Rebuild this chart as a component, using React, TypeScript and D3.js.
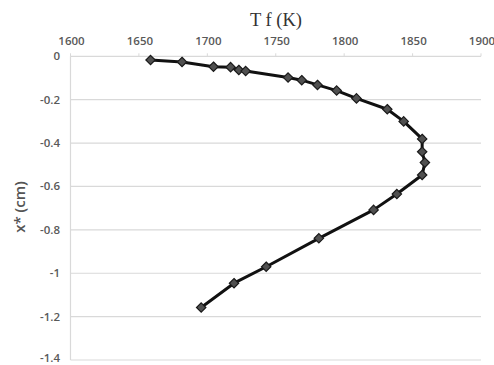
import React from 'react';
import * as d3 from 'd3';

// data
const tempK = [1658.5, 1681.5, 1704.5, 1717, 1723, 1728, 1759, 1769, 1780.5, 1794.5, 1809, 1831.5, 1843.5, 1857, 1857, 1859, 1857, 1838.5, 1821.5, 1781.5, 1743, 1719.5, 1695.5];
const depthCm = [-0.017, -0.026, -0.048, -0.05, -0.063, -0.068, -0.098, -0.11, -0.132, -0.158, -0.194, -0.244, -0.3, -0.381, -0.44, -0.49, -0.547, -0.635, -0.708, -0.839, -0.97, -1.046, -1.158];
const xTicks = [1600, 1650, 1700, 1750, 1800, 1850, 1900];
const yTicks = [0, -0.2, -0.4, -0.6, -0.8, -1, -1.2, -1.4];

const width = 494;
const height = 365;
const margins = { l: 70.5, r: 13, t: 56.3, b: 5 };

export default function App() {
    const xScale = d3.scaleLinear().domain([1600, 1900]).range([margins.l, width - margins.r]);
    const yScale = d3.scaleLinear().domain([0, -1.4]).range([margins.t, height - margins.b]);

    const pts = tempK.map((t, i) => [t, depthCm[i]] as [number, number]);
    const line = d3.line<[number, number]>()
        .x(d => xScale(d[0]))
        .y(d => yScale(d[1]));

    const diamond = d3.symbol().type(d3.symbolDiamond2).size(56)();
    const tickFont = "'Open Sans', 'Liberation Sans', Arial, sans-serif";

    return (
        <svg width={width} height={height} style={{ position: 'absolute', left: 0, top: 0, background: '#fff' }}>
            {/* grid */}
            {yTicks.map(t => (
                <line key={'g' + t} x1={xScale(1600)} x2={xScale(1900)} y1={yScale(t)} y2={yScale(t)}
                    stroke="#d9d9d9" strokeWidth={1.2} />
            ))}
            <line x1={xScale(1600)} x2={xScale(1600)} y1={yScale(0)} y2={yScale(-1.4)} stroke="#d9d9d9" strokeWidth={1.2} />
            {xTicks.map(t => (
                <line key={'xt' + t} x1={xScale(t)} x2={xScale(t)} y1={yScale(0) - 3} y2={yScale(0)} stroke="#d9d9d9" strokeWidth={1} />
            ))}

            {/* tick labels */}
            {xTicks.map(t => (
                <text key={'xl' + t} x={xScale(t) + 1} y={45} textAnchor="middle" fontSize={11.5} fontWeight={600}
                    fontFamily={tickFont} fill="#595959">{t}</text>
            ))}
            {yTicks.map(t => (
                <text key={'yl' + t} x={60} y={Math.min(yScale(t) + 4, height - 3)} textAnchor="end" fontSize={11.5} fontWeight={600}
                    fontFamily={tickFont} fill="#595959">{t === 0 ? '0' : String(t)}</text>
            ))}

            {/* titles */}
            <text x={276} y={26} textAnchor="middle" fontSize={18.5}
                fontFamily="'Liberation Serif', 'Times New Roman', serif" fill="#333">T f (K)</text>
            <text transform={`translate(25, 207) rotate(-90)`} textAnchor="middle" fontSize={15} fontWeight={600}
                fontFamily={tickFont} fill="#555">x* (cm)</text>

            {/* series */}
            <path d={line(pts) || ''} fill="none" stroke="#111" strokeWidth={3} strokeLinejoin="round" />
            {pts.map((p, i) => (
                <path key={'m' + i} d={diamond} transform={`translate(${xScale(p[0])}, ${yScale(p[1])})`}
                    fill="#505050" stroke="#1a1a1a" strokeWidth={1.2} />
            ))}
        </svg>
    );
}
